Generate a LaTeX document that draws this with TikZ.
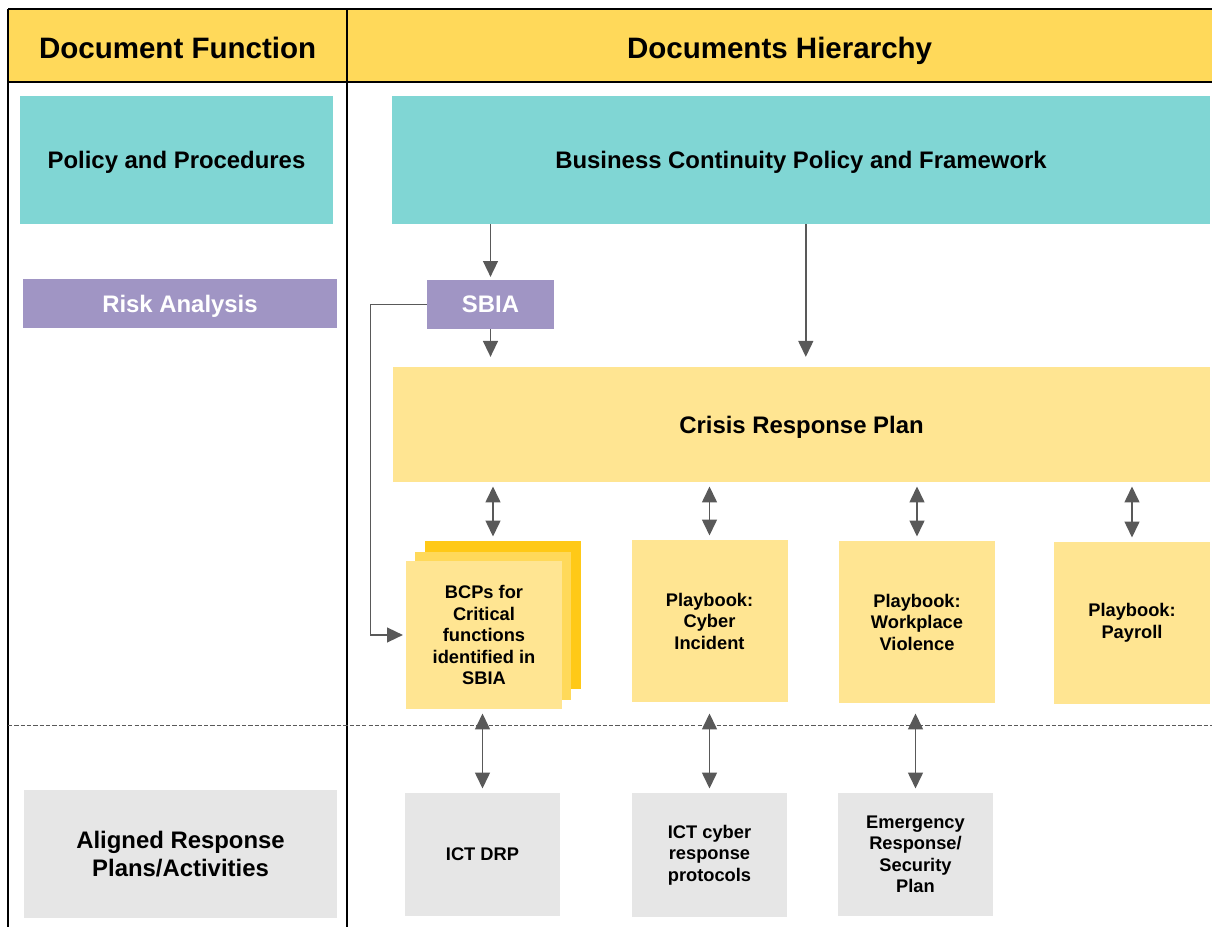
\documentclass[tikz,border=0pt]{standalone}
\usepackage{fontspec}
\setmainfont{Liberation Sans}
\usetikzlibrary{arrows.meta, positioning}

\definecolor{hdryellow}{HTML}{FFD95A}
\definecolor{tealfill}{HTML}{80D6D4}
\definecolor{lilacfill}{HTML}{A095C4}
\definecolor{paleyellow}{HTML}{FFE592}
\definecolor{deepyellow}{HTML}{FFC917}
\definecolor{greyfill}{HTML}{E6E6E6}
\definecolor{arrowgrey}{HTML}{595959}

\begin{document}
\begin{tikzpicture}[
    every node/.style={font=\bfseries, align=center, inner sep=0pt},
    hdr/.style={font=\fontsize{21}{25}\selectfont\bfseries, anchor=base},
    policybox/.style={fill=tealfill, minimum height=3.2cm, text depth=0pt, font=\fontsize{17}{20}\selectfont\bfseries},
    riskbox/.style={fill=lilacfill, text=white, minimum height=1.225cm, text depth=0pt, font=\fontsize{17}{20}\selectfont\bfseries},
    planbox/.style={fill=paleyellow, minimum width=3.9cm, font=\fontsize{13}{15.3}\selectfont\bfseries},
    alignbox/.style={fill=greyfill, minimum width=3.875cm, minimum height=3.1cm, font=\fontsize{13}{15.3}\selectfont\bfseries},
    rule/.style={line width=1.8pt},
    colrule/.style={line width=1.2pt},
    arr/.style={color=arrowgrey, line width=1.1pt, -{Triangle[width=10.6pt,length=11.3pt]}},
    darr/.style={color=arrowgrey, line width=1.1pt, {Triangle[width=10.6pt,length=11.3pt]}-{Triangle[width=10.6pt,length=11.3pt]}, shorten <=3pt, shorten >=3pt}
  ]
  \useasboundingbox (0,0) rectangle (30.3,23.175);

  % header band and table rules
  \fill[hdryellow] (0.2,21.125) rectangle (30.3,22.95);
  \draw[rule] (30.3,22.95) -- (0.2,22.95);
  \draw[rule] (0.2,21.125) -- (30.3,21.125);
  \draw[colrule] (0.2,22.95) -- (0.2,0);
  \draw[colrule] (8.675,22.95) -- (8.675,0);
  \draw[arrowgrey, line width=0.6pt, dash pattern=on 3pt off 1.5pt] (0.2,5.05) -- (30.3,5.05);

  \node[hdr] (fnhead) at (4.44,21.72) {Document Function};
  \node[hdr] (hierhead) at (19.49,21.72) {Documents Hierarchy};

  % left column: what each row is for
  \node[policybox, minimum width=7.825cm] (policy) at (4.4125,19.175) {Policy and Procedures};
  \node[riskbox, minimum width=7.85cm] (risk) at (4.5,15.5875) {Risk Analysis};
  \node[alignbox, minimum width=7.825cm, minimum height=3.2cm, font=\fontsize{17}{20.5}\selectfont\bfseries] (aligned) at (4.5125,1.825) {Aligned Response\\Plans/Activities};

  % right column: the documents
  \node[policybox, minimum width=20.45cm] (bcframe) at (20.025,19.175) {Business Continuity Policy and Framework};
  \node[riskbox, minimum width=3.175cm] (sbia) at (12.2625,15.5625) {SBIA};
  \node[planbox, minimum width=20.425cm, minimum height=2.875cm, text depth=0pt, font=\fontsize{17}{20}\selectfont\bfseries] (crisis) at (20.0375,12.5625) {Crisis Response Plan};

  % stacked BCP sheets
  \node[planbox, fill=deepyellow, minimum height=3.7cm] (bcpback) at (12.575,7.8) {};
  \node[planbox, fill=hdryellow, minimum height=3.7cm] (bcpmid) at (12.325,7.525) {};
  \node[planbox, minimum height=3.7cm] (bcp) at (12.1,7.3) {BCPs for\\Critical\\functions\\identified in\\SBIA};

  \node[planbox, minimum height=4.05cm] (cyber) at (17.7375,7.65) {Playbook:\\Cyber\\Incident};
  \node[planbox, minimum height=4.05cm] (violence) at (22.925,7.625) {Playbook:\\Workplace\\Violence};
  \node[planbox, minimum height=4.05cm] (payroll) at (28.3,7.6) {Playbook:\\Payroll};

  \node[alignbox, minimum height=3.075cm] (drp) at (12.0625,1.8125) {ICT DRP};
  \node[alignbox] (cyberproto) at (17.7375,1.8) {ICT cyber\\response\\protocols};
  \node[alignbox, minimum height=3.075cm] (emergency) at (22.8875,1.8125) {Emergency\\Response/\\Security\\Plan};

  % connectors
  \draw[arr, shorten >=2pt] (sbia.north |- bcframe.south) -- (sbia.north);
  \draw[arr, shorten >=7pt] ([xshift=1.2mm]bcframe.south) -- ([xshift=1.2mm]bcframe.south |- crisis.north);
  \draw[arr, shorten >=7pt] (sbia.south) -- (sbia.south |- crisis.north);
  \draw[arr, shorten >=2pt] (sbia.west) -- ++(-1.4,0) |- (bcp.west);

  \foreach \doc/\top in {bcpmid/bcpback, cyber/cyber, violence/violence, payroll/payroll}
    \draw[darr] (\doc.north |- crisis.south) -- (\doc.north |- \top.north);

  \foreach \lower in {drp, cyberproto, emergency}
    \draw[darr] (\lower.north |- bcp.south) -- (\lower.north);
\end{tikzpicture}
\end{document}
